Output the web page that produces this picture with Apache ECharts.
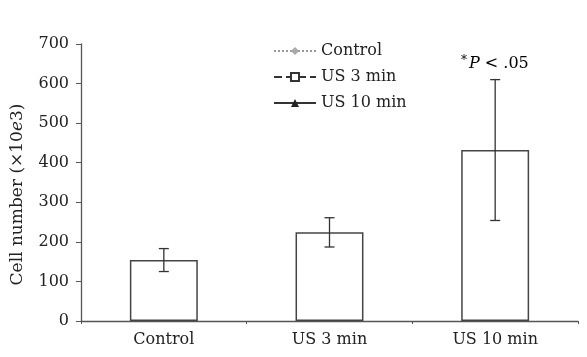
<!DOCTYPE html>
<html>
<head>
<meta charset="utf-8">
<script src="https://cdn.jsdelivr.net/npm/echarts@6/dist/echarts.min.js"></script>
<style>html,body{margin:0;padding:0;background:#fff;}#c{width:587px;height:357px;}</style>
</head>
<body>
<div id="c"></div>
<script>
var categories = ['Control', 'US 3 min', 'US 10 min'];
var values = [154, 224, 432];
var errors = [29, 37, 178];
var yTicks = [0, 100, 200, 300, 400, 500, 600, 700];
var legendNames = ['Control', 'US 3 min', 'US 10 min'];

var FONT = '"DejaVu Serif", "Liberation Serif", serif';
var FS = 16;
var TXT = '#222';
var chart = echarts.init(document.getElementById('c'));

var errData = values.map(function (v, i) { return [i, v - errors[i], v + errors[i]]; });

chart.setOption({
  animation: false,
  backgroundColor: '#fff',
  grid: { left: 81, right: 9, top: 44, bottom: 36 },
  legend: {
    orient: 'vertical',
    left: 268,
    top: 38,
    itemWidth: 42,
    itemHeight: 10,
    itemGap: 10,
    textStyle: { fontFamily: FONT, fontSize: FS, color: TXT, lineHeight: 16 },
    data: legendNames
  },
  xAxis: {
    type: 'category',
    data: categories,
    axisLine: { lineStyle: { color: '#555', width: 1.3 } },
    axisTick: { show: true, length: 3, lineStyle: { color: '#555' } },
    axisLabel: { fontFamily: FONT, fontSize: FS, color: TXT, margin: 11 }
  },
  yAxis: {
    type: 'value',
    min: 0, max: 700, interval: 100,
    name: '{a|Cell number (×10}{b|e}{a|3)}',
    nameLocation: 'middle',
    nameGap: 55,
    nameRotate: 90,
    nameTextStyle: {
      padding: [0, 24, 0, 0],
      rich: {
        a: { fontFamily: FONT, fontSize: 17, color: TXT },
        b: { fontFamily: FONT, fontSize: 17, color: TXT, fontStyle: 'italic' }
      }
    },
    axisLine: { show: true, lineStyle: { color: '#555', width: 1.3 } },
    axisTick: { show: true, length: 5, lineStyle: { color: '#555' } },
    axisLabel: { fontFamily: FONT, fontSize: FS, color: TXT, margin: 12,
      formatter: function (v) { return yTicks.indexOf(v) >= 0 ? String(v) : ''; } },
    splitLine: { show: false }
  },
  series: [
    {
      type: 'bar',
      data: values,
      barWidth: '41%',
      itemStyle: { color: '#fff', borderColor: '#444', borderWidth: 1.5 },
      silent: true
    },
    {
      type: 'custom',
      data: errData,
      renderItem: function (params, api) {
        var x = api.value(0);
        var lo = api.coord([x, api.value(1)]);
        var hi = api.coord([x, api.value(2)]);
        var w = 5;
        var st = { stroke: '#333', lineWidth: 1.3 };
        return {
          type: 'group',
          children: [
            { type: 'line', shape: { x1: lo[0], y1: lo[1], x2: hi[0], y2: hi[1] }, style: st },
            { type: 'line', shape: { x1: lo[0] - w, y1: lo[1], x2: lo[0] + w, y2: lo[1] }, style: st },
            { type: 'line', shape: { x1: hi[0] - w, y1: hi[1], x2: hi[0] + w, y2: hi[1] }, style: st }
          ]
        };
      },
      z: 5
    },
    { name: 'Control', type: 'line', data: [], symbol: 'diamond', symbolSize: 8,
      itemStyle: { color: '#aaa' }, lineStyle: { color: '#999', type: 'dotted', width: 1.3 } },
    { name: 'US 3 min', type: 'line', data: [], symbol: 'rect', symbolSize: 8,
      itemStyle: { color: '#fff', borderColor: '#333', borderWidth: 1 }, lineStyle: { color: '#333', type: 'dashed', width: 1.3 } },
    { name: 'US 10 min', type: 'line', data: [], symbol: 'triangle', symbolSize: 9,
      itemStyle: { color: '#222' }, lineStyle: { color: '#333', type: 'solid', width: 1.3 } }
  ],
  graphic: [
    {
      type: 'text',
      left: 461,
      top: 55,
      style: {
        text: '{s|*}{p|P}{n| < .05}',
        rich: {
          s: { fontFamily: FONT, fontSize: 12, color: TXT, verticalAlign: 'top', padding: [0, 2, 6, 0] },
          p: { fontFamily: FONT, fontSize: FS, color: TXT, fontStyle: 'italic' },
          n: { fontFamily: FONT, fontSize: FS, color: TXT }
        }
      }
    }
  ]
});
</script>
</body>
</html>
